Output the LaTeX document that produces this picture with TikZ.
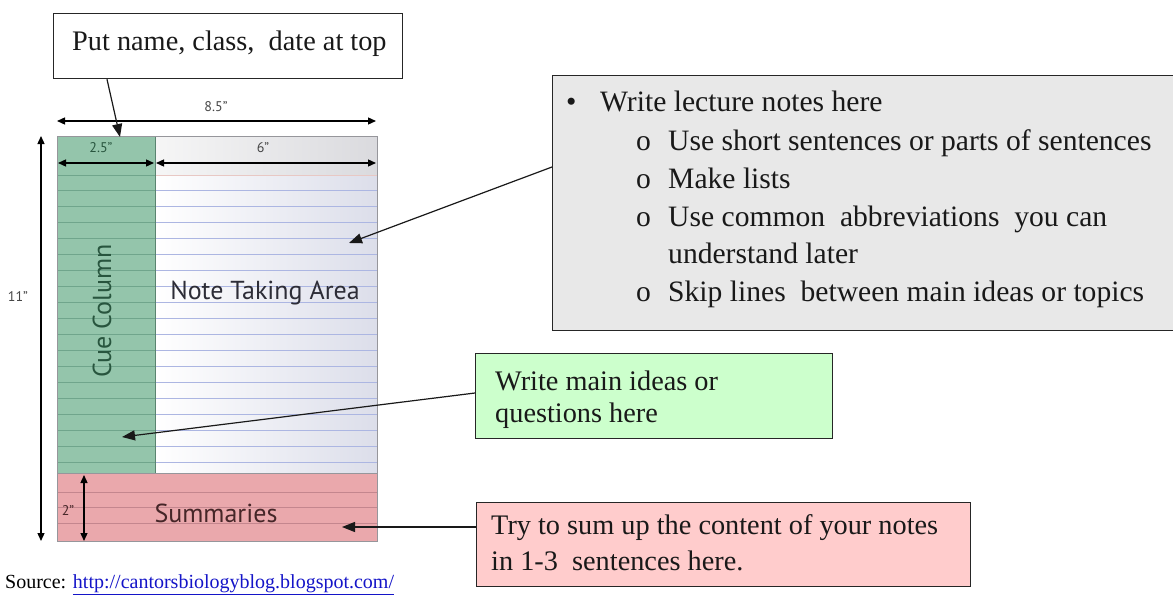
\documentclass[tikz,border=0pt]{standalone}
\usepackage{fontspec}
\setmainfont{Liberation Serif}
\newfontfamily\papersans{PT Sans}
\usetikzlibrary{arrows.meta,calc}
\definecolor{cuegreen}{RGB}{148,197,171}
\definecolor{cueline}{RGB}{112,165,140}
\definecolor{sumpink}{RGB}{234,168,172}
\definecolor{sumline}{RGB}{196,134,142}
\definecolor{notegray}{RGB}{220,222,234}
\definecolor{noteline}{RGB}{172,182,226}
\definecolor{hdrL}{RGB}{246,246,246}
\definecolor{hdrR}{RGB}{218,218,222}
\definecolor{hdrline}{RGB}{232,200,196}
\definecolor{papergray}{RGB}{150,150,155}
\definecolor{boxgreen}{RGB}{204,255,204}
\definecolor{boxpink}{RGB}{255,204,204}
\definecolor{boxgray}{RGB}{232,232,232}
\definecolor{txt}{RGB}{25,25,25}
\definecolor{linkblue}{RGB}{20,20,200}
\definecolor{dimtxt}{RGB}{70,70,70}
\definecolor{cuetxt}{RGB}{40,85,62}
\definecolor{ntatxt}{RGB}{45,45,55}
\definecolor{sumtxt}{RGB}{70,38,40}
\tikzset{
  callout/.style={draw=black!85, line width=1.3pt, anchor=north west, inner sep=0pt},
  boxtext/.style={anchor=base west, inner sep=0pt, text=txt, font=\fontsize{28.3}{34}\selectfont},
  listtext/.style={anchor=base west, inner sep=0pt, text=txt, font=\fontsize{29.6}{35}\selectfont},
  pointer/.style={draw=black!90, line width=1.2pt, -{Triangle[length=13pt,width=10pt]}},
  dimarrow/.style={draw=black, line width=1.3pt, {Triangle[length=8pt,width=7pt]}-{Triangle[length=8pt,width=7pt]}},
  dimlabel/.style={inner sep=0pt, text=dimtxt, font=\papersans\fontsize{14}{16}\selectfont},
  arealabel/.style={inner sep=0pt, font=\papersans\fontsize{26}{30}\selectfont}
}
\begin{document}
\begin{tikzpicture}[x=1pt,y=-1pt]
\useasboundingbox (0,0) rectangle (1173,597);
\fill[white] (0,0) rectangle (1173,597);

% ---------- paper ----------
\shade[left color=hdrL, right color=hdrR] (155,136) rectangle (377,175);
\shade[left color=white, right color=notegray] (155,175) rectangle (377,473);
\fill[cuegreen] (57,136) rectangle (155,473);
\fill[sumpink] (57,473) rectangle (377,541);
\draw[hdrline, line width=0.8pt] (155,175) -- (377,175);
\draw[cueline, line width=0.8pt] (57,175) -- (155,175);
\foreach \yy in {190,206,...,462} {
  \draw[noteline, line width=0.8pt] (155,\yy) -- (377,\yy);
  \draw[cueline, line width=0.8pt] (57,\yy) -- (155,\yy);
}
\foreach \yy in {492,507,523} {
  \draw[sumline, line width=0.8pt] (57,\yy) -- (377,\yy);
}
\draw[cueline!80!black, line width=0.8pt] (155,136) -- (155,473);
\draw[papergray, line width=0.8pt] (57,473) -- (377,473);
\draw[papergray, line width=1pt] (57,136) rectangle (377,541);

% area labels
\node[arealabel, text=cuetxt, rotate=90] (cue) at (102,311) {Cue Column};
\node[arealabel, text=ntatxt] (nta) at (265,293) {Note Taking Area};
\node[arealabel, text=sumtxt] (sum) at (216,513) {Summaries};

% ---------- dimensions ----------
\coordinate (w1) at (57,121);  \coordinate (w2) at (376,121);
\coordinate (c1) at (58,163);  \coordinate (c2) at (154,163);
\coordinate (n1) at (156,163); \coordinate (n2) at (376,163);
\coordinate (h1) at (41,136);  \coordinate (h2) at (41,541);
\coordinate (s1) at (84,475);  \coordinate (s2) at (84,541);
\draw[dimarrow] (w1) -- (w2);
\draw[dimarrow] (c1) -- (c2);
\draw[dimarrow] (n1) -- (n2);
\draw[dimarrow] (h1) -- (h2);
\draw[dimarrow] (s1) -- (s2);
\node[dimlabel] (l85) at (216,107) {8.5”};
\node[dimlabel, text=cuetxt] (l25) at (101,148) {2.5”};
\node[dimlabel] (l6) at (263,148) {6”};
\node[dimlabel] (l11) at (18,297) {11”};
\node[dimlabel, text=sumtxt] (l2) at (68,511) {2”};

% ---------- callout boxes ----------
\node[callout, fill=white, minimum width=349pt, minimum height=65pt] (topbox) at (53,13) {};
\node[boxtext] (toptxt) at (72,50) {Put name, class,\ \ date at top};

\node[callout, fill=boxgray, minimum width=660pt, minimum height=255pt] (graybox) at (552,75) {};
\node[listtext] (b1) at (566,111) {•};
\node[listtext] (g1) at (600,111) {Write lecture notes here};
\node[listtext] (b2) at (636,150) {o};
\node[listtext] (g2) at (668,150) {Use short sentences or parts of sentences};
\node[listtext] (b3) at (636,188) {o};
\node[listtext] (g3) at (668,188) {Make lists};
\node[listtext] (b4) at (636,226) {o};
\node[listtext] (g4) at (668,226) {Use common\ \ abbreviations\ \ you can};
\node[listtext] (g5) at (668,263) {understand later};
\node[listtext] (b6) at (636,301) {o};
\node[listtext] (g6) at (668,301) {Skip lines\ \ between main ideas or topics};

\node[callout, fill=boxgreen, minimum width=357pt, minimum height=85pt] (greenbox) at (475,353) {};
\node[boxtext] (gr1) at (495,390) {Write main ideas or};
\node[boxtext] (gr2) at (495,422) {questions here};

\node[callout, fill=boxpink, minimum width=494pt, minimum height=84pt] (pinkbox) at (476,502) {};
\node[boxtext] (pk1) at (491,534) {Try to sum up the content of your notes};
\node[boxtext] (pk2) at (491,570) {in 1-3\ \ sentences here.};

% ---------- pointers ----------
\coordinate (tipTop) at (120,137);
\coordinate (tipNote) at (349,243);
\coordinate (tipCue) at (122,437);
\coordinate (tipSum) at (342,527);
\draw[pointer] ([xshift=54pt]topbox.south west) -- (tipTop);
\draw[pointer] ([yshift=-92pt]graybox.north west) -- (tipNote);
\draw[pointer] ([yshift=-40pt]greenbox.north west) -- (tipCue);
\draw[pointer] ([yshift=-25pt]pinkbox.north west) -- (tipSum);

% ---------- source ----------
\node[anchor=base west, inner sep=0pt, font=\fontsize{20}{23}\selectfont] (src) at (5,588)
  {Source: \textcolor{linkblue}{\underline{http://cantorsbiologyblog.blogspot.com/}}};
\end{tikzpicture}
\end{document}
